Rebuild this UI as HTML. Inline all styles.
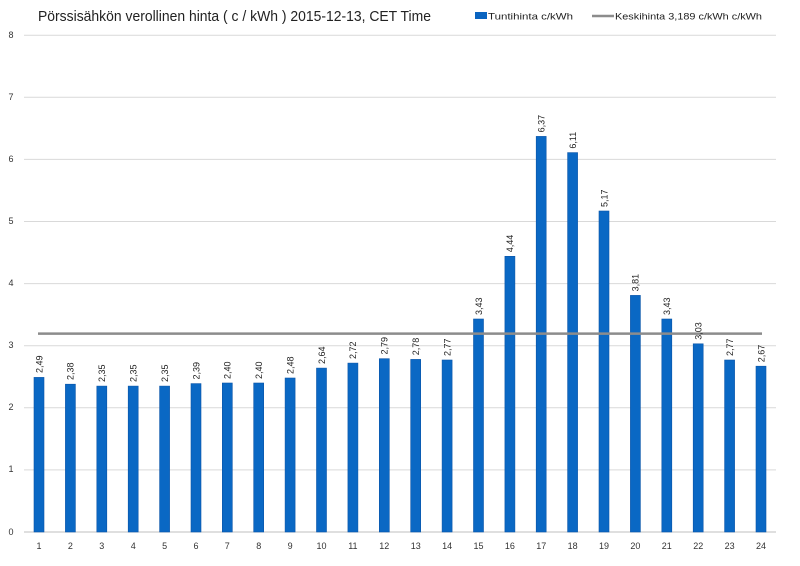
<!DOCTYPE html>
<html><head><meta charset="utf-8"><style>
html,body{margin:0;padding:0;background:#fff;}
svg{display:block;font-family:"Liberation Sans",sans-serif;}
</style></head><body>
<svg width="800" height="566" viewBox="0 0 800 566" xmlns="http://www.w3.org/2000/svg">
<rect width="800" height="566" fill="#fff"/>
<text x="38" y="21" font-size="14.5" fill="#222" textLength="393" lengthAdjust="spacingAndGlyphs">Pörssisähkön verollinen hinta ( c / kWh ) 2015-12-13, CET Time</text>
<rect x="475" y="12" width="12" height="7" fill="#0a64c0"/>
<text x="488" y="19.5" font-size="9.5" fill="#222" textLength="85" lengthAdjust="spacingAndGlyphs">Tuntihinta c/kWh</text>
<line x1="592" y1="16" x2="614" y2="16" stroke="#8c8c8c" stroke-width="2.5"/>
<text x="615" y="19.5" font-size="9.5" fill="#222" textLength="147" lengthAdjust="spacingAndGlyphs">Keskihinta 3,189 c/kWh c/kWh</text>
<g stroke="#d9d9d9" stroke-width="1">
<line x1="24" y1="35.2" x2="776" y2="35.2"/>
<line x1="24" y1="97.3" x2="776" y2="97.3"/>
<line x1="24" y1="159.4" x2="776" y2="159.4"/>
<line x1="24" y1="221.5" x2="776" y2="221.5"/>
<line x1="24" y1="283.6" x2="776" y2="283.6"/>
<line x1="24" y1="345.7" x2="776" y2="345.7"/>
<line x1="24" y1="407.8" x2="776" y2="407.8"/>
<line x1="24" y1="469.9" x2="776" y2="469.9"/>
</g>
<line x1="24" y1="532" x2="776" y2="532" stroke="#bfbfbf" stroke-width="1"/>
<g font-size="9" fill="#333" text-anchor="middle">
<text x="11" y="38">8</text><text x="11" y="100">7</text><text x="11" y="162">6</text><text x="11" y="224">5</text>
<text x="11" y="286">4</text><text x="11" y="348">3</text><text x="11" y="410">2</text><text x="11" y="472">1</text><text x="11" y="535">0</text>
</g>
<g fill="#0a68c4" stroke="#0b55a8" stroke-width="0.6">
<rect x="34" y="377.4" width="10" height="154.6"/>
<rect x="65.4" y="384.2" width="10" height="147.8"/>
<rect x="96.8" y="386.1" width="10" height="145.9"/>
<rect x="128.2" y="386.1" width="10" height="145.9"/>
<rect x="159.6" y="386.1" width="10" height="145.9"/>
<rect x="191" y="383.6" width="10" height="148.4"/>
<rect x="222.3" y="383" width="10" height="149"/>
<rect x="253.7" y="383" width="10" height="149"/>
<rect x="285.1" y="378" width="10" height="154"/>
<rect x="316.5" y="368.1" width="10" height="163.9"/>
<rect x="347.9" y="363.1" width="10" height="168.9"/>
<rect x="379.3" y="358.7" width="10" height="173.3"/>
<rect x="410.7" y="359.4" width="10" height="172.6"/>
<rect x="442.1" y="360" width="10" height="172"/>
<rect x="473.5" y="319" width="10" height="213"/>
<rect x="504.9" y="256.3" width="10" height="275.7"/>
<rect x="536.2" y="136.4" width="10" height="395.6"/>
<rect x="567.6" y="152.6" width="10" height="379.4"/>
<rect x="599" y="211" width="10" height="321"/>
<rect x="630.4" y="295.4" width="10" height="236.6"/>
<rect x="661.8" y="319" width="10" height="213"/>
<rect x="693.2" y="343.8" width="10" height="188.2"/>
<rect x="724.6" y="360" width="10" height="172"/>
<rect x="756" y="366.2" width="10" height="165.8"/>
</g>
<line x1="38" y1="333.6" x2="762" y2="333.6" stroke="#8c8c8c" stroke-width="2.5"/>
<g font-size="9" fill="#222">
<text transform="translate(42.3,373) rotate(-90)">2,49</text>
<text transform="translate(73.7,380) rotate(-90)">2,38</text>
<text transform="translate(105.1,382) rotate(-90)">2,35</text>
<text transform="translate(136.5,382) rotate(-90)">2,35</text>
<text transform="translate(167.9,382) rotate(-90)">2,35</text>
<text transform="translate(199.3,379.5) rotate(-90)">2,39</text>
<text transform="translate(230.6,379) rotate(-90)">2,40</text>
<text transform="translate(262,379) rotate(-90)">2,40</text>
<text transform="translate(293.4,374) rotate(-90)">2,48</text>
<text transform="translate(324.8,364) rotate(-90)">2,64</text>
<text transform="translate(356.2,359) rotate(-90)">2,72</text>
<text transform="translate(387.6,354.5) rotate(-90)">2,79</text>
<text transform="translate(419,355.3) rotate(-90)">2,78</text>
<text transform="translate(450.4,356) rotate(-90)">2,77</text>
<text transform="translate(481.8,315) rotate(-90)">3,43</text>
<text transform="translate(513.2,252.3) rotate(-90)">4,44</text>
<text transform="translate(544.5,132.4) rotate(-90)">6,37</text>
<text transform="translate(575.9,148.6) rotate(-90)">6,11</text>
<text transform="translate(607.3,207) rotate(-90)">5,17</text>
<text transform="translate(638.7,291.4) rotate(-90)">3,81</text>
<text transform="translate(670.1,315) rotate(-90)">3,43</text>
<text transform="translate(701.5,339.8) rotate(-90)">3,03</text>
<text transform="translate(732.9,356) rotate(-90)">2,77</text>
<text transform="translate(764.3,362.2) rotate(-90)">2,67</text>
</g>
<g font-size="9" fill="#333" text-anchor="middle">
<text x="39" y="549">1</text><text x="70.4" y="549">2</text><text x="101.8" y="549">3</text><text x="133.2" y="549">4</text>
<text x="164.6" y="549">5</text><text x="196" y="549">6</text><text x="227.3" y="549">7</text><text x="258.7" y="549">8</text>
<text x="290.1" y="549">9</text><text x="321.5" y="549">10</text><text x="352.9" y="549">11</text><text x="384.3" y="549">12</text>
<text x="415.7" y="549">13</text><text x="447.1" y="549">14</text><text x="478.5" y="549">15</text><text x="509.9" y="549">16</text>
<text x="541.2" y="549">17</text><text x="572.6" y="549">18</text><text x="604" y="549">19</text><text x="635.4" y="549">20</text>
<text x="666.8" y="549">21</text><text x="698.2" y="549">22</text><text x="729.6" y="549">23</text><text x="761" y="549">24</text>
</g>
</svg>
</body></html>
